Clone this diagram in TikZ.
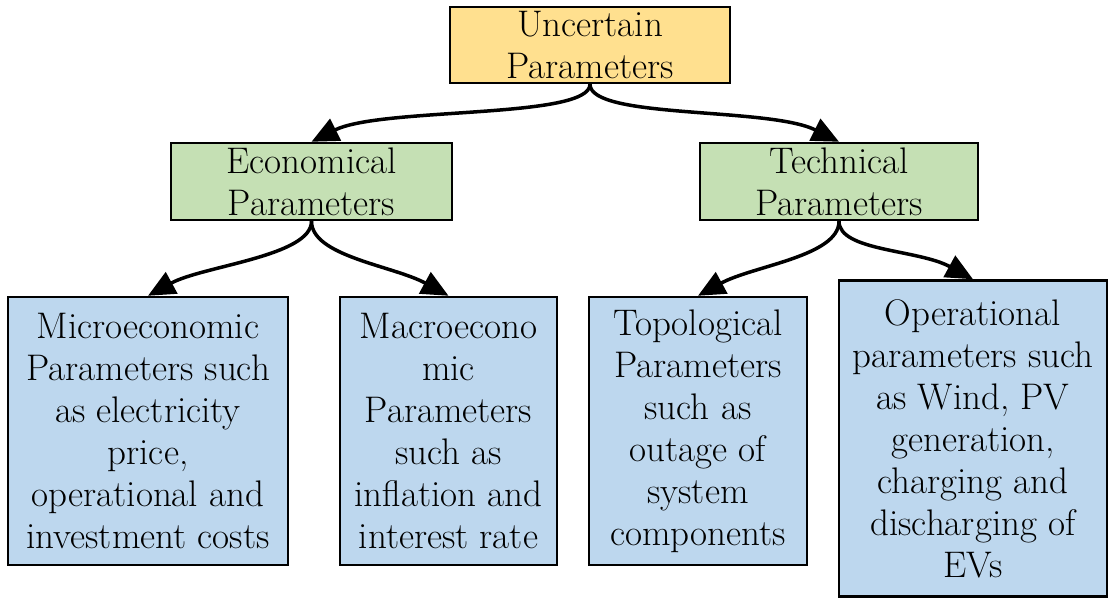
\documentclass[tikz,border=0pt]{standalone}
\usepackage{tikz}
\usetikzlibrary{arrows.meta, positioning}

\definecolor{rootyellow}{HTML}{FFE08F}
\definecolor{groupgreen}{HTML}{C5E0B4}
\definecolor{leafblue}{HTML}{BDD7EE}

\begin{document}
\begin{tikzpicture}[
    x=1pt, y=-1pt,
    every node/.style={draw, rectangle, line width=2.5pt, align=center, inner sep=0pt, font=\fontsize{37}{42}\selectfont},
    rootbox/.style={fill=rootyellow, minimum width=280pt, minimum height=76pt},
    groupbox/.style={fill=groupgreen, minimum height=77pt},
    leafbox/.style={fill=leafblue, minimum height=268pt},
    link/.style={draw, line width=3.5pt, -{Triangle[length=27pt, width=24pt]}}
]
\useasboundingbox (0,0) rectangle (1109,598);

\node[rootbox] (root) at (590,45) {Uncertain\\Parameters};

\node[groupbox, minimum width=281pt] (econ) at (311.5,181.5) {Economical\\Parameters};
\node[groupbox, minimum width=278pt] (tech) at (839,181.5) {Technical\\Parameters};

\node[leafbox, minimum width=280pt] (micro) at (148,431)
    {Microeconomic\\Parameters such\\as electricity\\price,\\operational and\\investment costs};
\node[leafbox, minimum width=217pt] (macro) at (448.5,431)
    {Macroecono\\mic\\Parameters\\such as\\inflation and\\interest rate};
\node[leafbox, minimum width=218pt] (topo) at (698,431)
    {Topological\\Parameters\\such as\\outage of\\system\\components};
\node[leafbox, minimum width=268pt, minimum height=316pt] (oper) at (973,438.5)
    {Operational\\parameters such\\as Wind, PV\\generation,\\charging and\\discharging of\\EVs};

% root to groups
\draw[link] (root.south) .. controls +(0,35) and +(70,-35) .. (econ.north);
\draw[link] (root.south) .. controls +(0,35) and +(-70,-35) .. (tech.north);

% groups to leaves
\draw[link] (econ.south) .. controls +(0,35) and +(55,-30) .. (micro.north);
\draw[link] (econ.south) .. controls +(0,35) and +(-55,-30) .. (macro.north);
\draw[link] (tech.south) .. controls +(0,35) and +(55,-30) .. (topo.north);
\draw[link] (tech.south) .. controls +(0,30) and +(-55,-30) .. (oper.north);

\end{tikzpicture}
\end{document}
